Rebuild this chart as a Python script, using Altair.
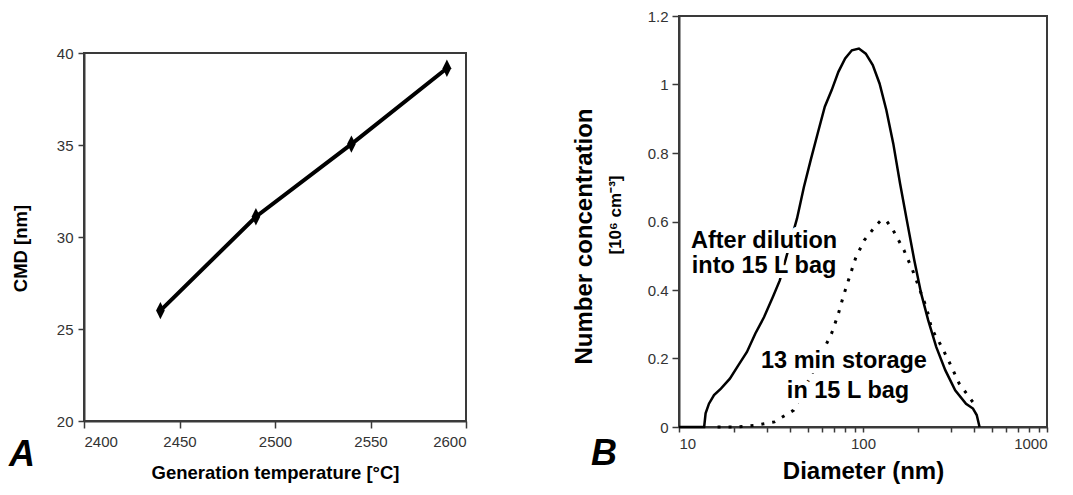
import altair as alt
import pandas as pd

FONT = "Liberation Sans"

# ---------- Panel A data ----------
temp_c = [2440, 2490, 2540, 2590]
cmd_nm = [26.0, 31.1, 35.05, 39.17]
a_x_ticks = [2400, 2450, 2500, 2550, 2600]
a_y_ticks = [20, 25, 30, 35, 40]

# ---------- Panel B data ----------
diluted_d = [10, 13.7, 13.95, 14.55, 15.5, 16.9, 18.9, 21.0, 23.4, 26.0, 29.0, 32.4, 35.3,
             43.8, 47.7, 52.0, 56.7, 62, 67.5, 73.5, 80, 87, 95, 103.5, 113, 123, 134, 146,
             159, 173, 190, 207, 226, 250, 280, 317, 363, 396, 415, 430]
diluted_n = [0, 0, 0.04, 0.068, 0.093, 0.112, 0.141, 0.18, 0.219, 0.273, 0.321, 0.38, 0.428,
             0.609, 0.70, 0.78, 0.857, 0.935, 0.983, 1.037, 1.076, 1.10, 1.105, 1.09, 1.057,
             1.003, 0.925, 0.828, 0.711, 0.604, 0.487, 0.39, 0.312, 0.234, 0.166, 0.107,
             0.068, 0.054, 0.035, 0.0]
stored_d = [16.2, 20.6, 26, 33, 42, 67.5, 73.5, 78.5, 91, 101.5, 118, 126, 135, 146, 167, 186,
            222, 236, 268, 300, 333, 395]
stored_n = [0, 0, 0.005, 0.015, 0.049, 0.273, 0.331, 0.385, 0.492, 0.545, 0.589, 0.605, 0.6,
            0.574, 0.516, 0.458, 0.346, 0.287, 0.234, 0.18, 0.127, 0.073]
b_x_ticks = [10, 20, 30, 40, 50, 60, 70, 80, 90, 100, 200, 300, 400, 500, 600, 700, 800, 900, 1000]
b_x_labels = [10, 100, 1000]
b_y_ticks = [0, 0.2, 0.4, 0.6, 0.8, 1, 1.2]

ann_text = ["After dilution", "into 15 L bag", "13 min storage", "in 15 L bag"]
ann_d = [29, 29, 78.8, 82.9]
ann_n = [0.523, 0.45, 0.172, 0.085]

# ---------- Panel A ----------
dfA = pd.DataFrame({"t": temp_c, "cmd": cmd_nm})
xA = alt.X("t:Q", scale=alt.Scale(domain=[2400, 2600], nice=False, zero=False),
           axis=alt.Axis(values=a_x_ticks, title="Generation temperature [°C]", tickSize=7,
                         labelPadding=6, titlePadding=14, titleFontSize=18.5, format="d"))
yA = alt.Y("cmd:Q", scale=alt.Scale(domain=[20, 40], nice=False, zero=False),
           axis=alt.Axis(values=a_y_ticks, title="CMD [nm]", tickSize=6, labelPadding=5,
                         titlePadding=26, titleFontSize=18.5, titleY=195))

lineA = alt.Chart(dfA).mark_line(color="black", strokeWidth=4).encode(x=xA, y=yA)
ptsA = alt.Chart(dfA).mark_point(shape="M0,-1L0.5,0L0,1L-0.5,0Z", size=300, filled=True,
                                 color="black", opacity=1).encode(x=xA, y=yA)
letterA = alt.Chart(pd.DataFrame({"p": ["A"]})).mark_text(
    font=FONT, fontSize=36, fontWeight="bold", fontStyle="italic", align="center",
    baseline="alphabetic", color="black").encode(text="p:N", x=alt.value(-62), y=alt.value(413))
panelA = alt.layer(lineA, ptsA, letterA).properties(width=382, height=368)

spacer = alt.Chart(pd.DataFrame({"s": [0]})).mark_point(opacity=0).encode(
    x=alt.value(0), y=alt.value(0)).properties(
    width=1, height=28, view=alt.ViewBackground(stroke="transparent"))

colA = alt.vconcat(spacer, panelA, spacing=0)

# ---------- Panel B ----------
dfS = pd.DataFrame({"d": diluted_d, "n": diluted_n})
dfD = pd.DataFrame({"d": stored_d, "n": stored_n})
label_list = ",".join(str(v) for v in b_x_labels)
xB = alt.X("d:Q", scale=alt.Scale(type="log", domain=[10, 1000], nice=False),
           axis=alt.Axis(values=b_x_ticks, title="Diameter (nm)", tickSize=5, labelPadding=4,
                         titlePadding=8, titleFontSize=24, labelOverlap=False,
                         labelExpr="indexof([" + label_list + "], datum.value) >= 0 ? toString(datum.value) : ''"))
yB = alt.Y("n:Q", scale=alt.Scale(domain=[0, 1.2], nice=False, zero=False),
           axis=alt.Axis(values=b_y_ticks, title="Number concentration", tickSize=7,
                         labelPadding=4, titlePadding=51, titleFontSize=24, format="~g",
                         titleY=220))

solid = alt.Chart(dfS).mark_line(color="black", strokeWidth=2.5).encode(x=xB, y=yB)
dotted = alt.Chart(dfD).mark_line(color="black", strokeWidth=3, strokeDash=[3, 8]).encode(x=xB, y=yB)

dfAnn = pd.DataFrame({"txt": ann_text, "d": ann_d, "n": ann_n})
halo = alt.Chart(dfAnn).mark_text(font=FONT, fontSize=23, fontWeight="bold", align="center",
                                  baseline="alphabetic", color="white", stroke="white",
                                  strokeWidth=10, strokeJoin="round").encode(x=xB, y=yB, text="txt:N")
annot = alt.Chart(dfAnn).mark_text(font=FONT, fontSize=23.5, fontWeight="bold", align="center",
                                   baseline="alphabetic", color="black").encode(x=xB, y=yB, text="txt:N")
subtitle = alt.Chart(pd.DataFrame({"s": ["[10⁶ cm⁻³]"]})).mark_text(
    font=FONT, fontSize=17, fontWeight="bold", angle=270, align="center", baseline="middle",
    color="black").encode(text="s:N", x=alt.value(-63), y=alt.value(199))
letterB = alt.Chart(pd.DataFrame({"p": ["B"]})).mark_text(
    font=FONT, fontSize=36, fontWeight="bold", fontStyle="italic", align="center",
    baseline="alphabetic", color="black").encode(text="p:N", x=alt.value(-75), y=alt.value(449))

panelB = alt.layer(solid, dotted, halo, annot, subtitle, letterB).properties(width=368, height=411)

chart = alt.hconcat(colA, panelB, spacing=103).properties(
    padding={"left": 0, "top": 0, "right": 0, "bottom": 0}
).configure_view(
    stroke="#3a3a3a", strokeWidth=2
).configure_axis(
    grid=False, labelFont=FONT, labelFontSize=15, labelColor="#333333",
    titleFont=FONT, titleFontWeight="bold", titleColor="black",
    domainColor="#3a3a3a", domainWidth=2, tickColor="#3a3a3a", tickWidth=1.5
)

chart.save("out.html", embed_options={"renderer": "svg", "actions": False})
